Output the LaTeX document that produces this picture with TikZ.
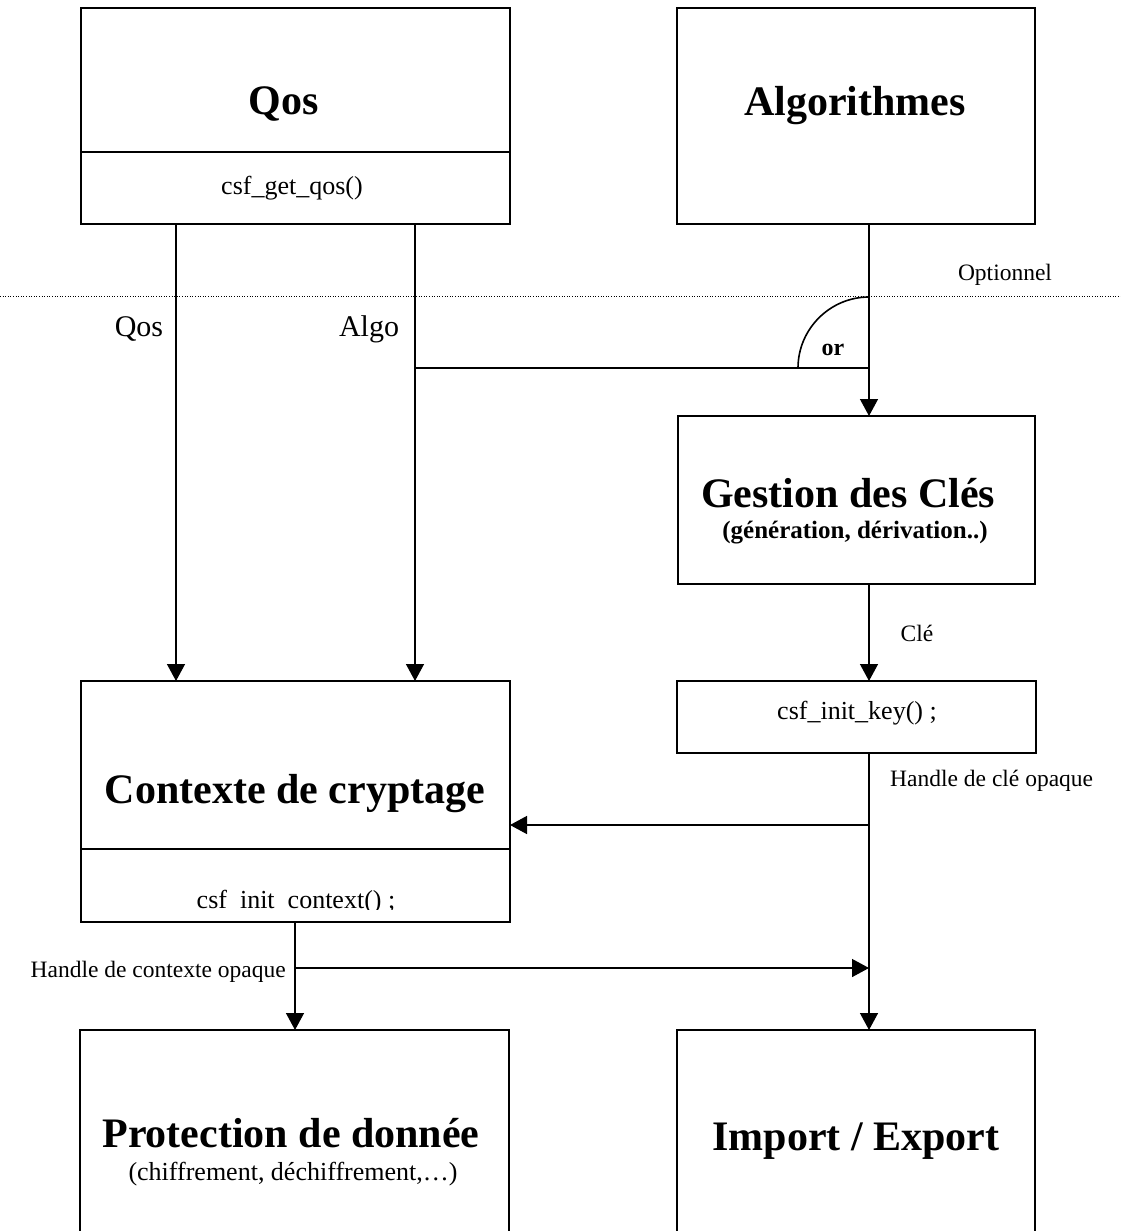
\documentclass[tikz,border=0pt]{standalone}
\usepackage{fontspec}
\setmainfont{Liberation Serif}
\usetikzlibrary{arrows.meta,calc}

\begin{document}
\begin{tikzpicture}[x=1pt,y=-1pt,
  box/.style={draw, rectangle, line width=1.8pt, inner sep=0pt, outer sep=0pt},
  divider/.style={line width=1.5pt},
  conn/.style={line width=1.4pt},
  arr/.style={conn, -{Triangle[length=17pt,width=18pt]}},
  title/.style={font=\fontsize{42}{48}\selectfont\bfseries, inner sep=0pt, anchor=base},
  fn/.style={font=\fontsize{26}{30}\selectfont, inner sep=0pt, anchor=base},
  subb/.style={font=\fontsize{25}{30}\selectfont\bfseries, inner sep=0pt, anchor=base},
  sub/.style={font=\fontsize{26}{30}\selectfont, inner sep=0pt, anchor=base},
  flow/.style={font=\fontsize{30}{34}\selectfont, inner sep=0pt, anchor=base},
  lbl/.style={font=\fontsize{23.5}{28}\selectfont, inner sep=0pt, anchor=base},
]
\useasboundingbox (0,0) rectangle (1121,1231);

% boxes
\node[box, minimum width=429, minimum height=216] (qos)  at (295.5,116) {};
\node[box, minimum width=358, minimum height=216] (alg)  at (856,116) {};
\node[box, minimum width=357, minimum height=168] (gest) at (856.5,500) {};
\node[box, minimum width=359, minimum height=72]  (key)  at (856.5,717) {};
\node[box, minimum width=429, minimum height=241] (ctx)  at (295.5,801.5) {};
\node[box, minimum width=429, minimum height=230] (prot) at (294.5,1145) {};
\node[box, minimum width=358, minimum height=230] (imp)  at (856,1145) {};

% compartment dividers
\coordinate (qdiv) at (0,152);
\coordinate (cdiv) at (0,849);
\draw[divider] (qos.west |- qdiv) -- (qos.east |- qdiv);
\draw[divider] (ctx.west |- cdiv) -- (ctx.east |- cdiv);

% box texts
\node[title] (qost) at (284,114) {Qos};
\node[fn]    (qosf) at (292,194) {csf\_get\_qos()};
\node[title] (algt) at (855,115) {Algorithmes};
\node[title] (gestt) at (848,507) {Gestion des Clés};
\node[subb]  (gests) at (855,538) {(génération, dérivation..)};
\node[fn]    (keyf) at (857,719) {csf\_init\_key() ;};
\node[title] (ctxt) at (295,803) {Contexte de cryptage};
% the call name sits on the lower edge of its frame, descenders cut off
\begin{scope}
  \clip (ctx.west |- cdiv) rectangle (ctx.east |- 0,909);
  \node[fn] (ctxf) at (296,908.5) {csf\_init\_context() ;};
\end{scope}
\node[title] (prott) at (291,1147) {Protection de donnée};
\node[sub]   (prots) at (293,1180) {(chiffrement, déchiffrement,\dots)};
\node[title] (impt) at (856,1150) {Import / Export};

% optional zone boundary
\coordinate (dl) at (0,296);
\coordinate (dr) at (1121,296);
\draw[line width=1pt, dash pattern=on 1pt off 1.6pt] (dl) -- (dr);
\node[lbl] (opt) at (1005,280) {Optionnel};

% connectors
\coordinate (qx) at (176,0);
\coordinate (ax) at (415,0);
\coordinate (kx) at (869,0);
\coordinate (cx) at (295,0);
\coordinate (orc) at (869,368);
\coordinate (hk) at (0,825);
\coordinate (hc) at (0,968);

\draw[arr] (qos.south -| qx) -- (ctx.north -| qx);
\draw[arr] (qos.south -| ax) -- (ctx.north -| ax);
\draw[arr] (alg.south -| kx) -- (gest.north -| kx);
\draw[conn] (orc -| ax) -- (orc);
\draw[line width=1.6pt] (798,368) .. controls (798,329) and (830,297) .. (869,297);
\node[font=\fontsize{24}{28}\selectfont\bfseries, inner sep=0pt, anchor=base] (ort) at (833,355) {or};

\node[flow] (lq) at (139,336) {Qos};
\node[flow] (la) at (369,336) {Algo};

\draw[arr] (gest.south -| kx) -- (key.north -| kx);
\node[lbl] (cle) at (917,641) {Clé};
\draw[arr] (key.south -| kx) -- (imp.north -| kx);
\node[lbl, anchor=base west] (hkl) at (890,786) {Handle de clé opaque};
\draw[arr] (hk -| kx) -- (hk -| ctx.east);

\draw[arr] (ctx.south -| cx) -- (prot.north -| cx);
\draw[arr] (hc -| cx) -- (hc -| kx);
\node[lbl, anchor=base east] (hcl) at (286,977) {Handle de contexte opaque};
\end{tikzpicture}
\end{document}
